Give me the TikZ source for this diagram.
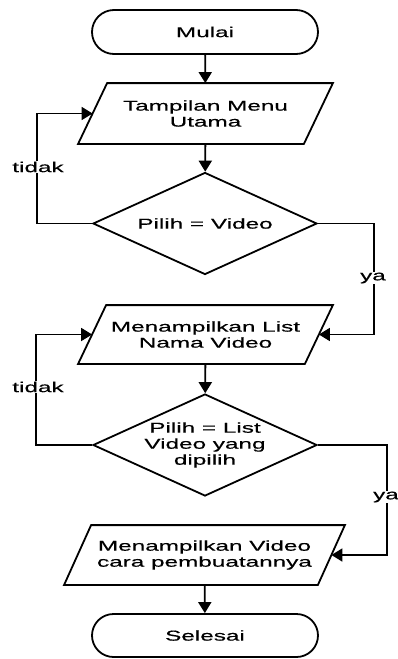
\documentclass[tikz,border=0pt]{standalone}
\usepackage{fontspec}
\setmainfont{Liberation Sans}[FakeStretch=1.7,FakeBold=0.4]
\usetikzlibrary{shapes.geometric,shapes.misc,arrows.meta}
\begin{document}
\begin{tikzpicture}[x=1pt,y=-1pt,
 every node/.style={font=\fontsize{14.3}{16}\selectfont},
 box/.style={draw, line width=1.8pt, align=center, inner sep=0pt},
 term/.style={box, rounded rectangle, minimum width=226pt, minimum height=44pt},
 io/.style={align=center, inner sep=0pt, outer sep=0.9pt, rectangle,
   append after command={
     \pgfextra{\draw[line width=1.8pt, line join=miter]
       ([xshift=#1]\tikzlastnode.north west) -- ([xshift=#1]\tikzlastnode.north east)
       -- ([xshift=-#1]\tikzlastnode.south east) -- ([xshift=-#1]\tikzlastnode.south west)
       -- cycle;}}},
 dec/.style={box, diamond, shape aspect=2.2, minimum width=224pt, minimum height=102pt},
 arr/.style={line width=1.8pt, -{Triangle[length=11pt,width=13pt]}},
 lbl/.style={fill=white, inner sep=1pt}
]
\fill[white] (0,0) rectangle (398,659);
\useasboundingbox (0,0) rectangle (398,659);

\node[term] (mulai) at (205,32) {Mulai};
\node[io=14.5pt, minimum width=224pt, minimum height=59pt] (menu) at (205.5,113.5) {Tampilan Menu\\Utama};
\node[dec] (pilih1) at (205,223.5) {Pilih = Video};
\node[io=14pt, minimum width=225pt, minimum height=57pt] (list) at (205.5,334.5) {Menampilkan List\\Nama Video};
\node[dec] (pilih2) at (205,445) {Pilih = List\\Video yang\\dipilih};
\node[io=13.5pt, minimum width=252pt, minimum height=58pt] (video) at (204.5,555) {Menampilkan Video\\cara pembuatannya};
\node[term, minimum height=43pt] (selesai) at (205,635.5) {Selesai};

\draw[arr] (mulai) -- (menu);
\draw[arr] (menu) -- (pilih1);
\draw[arr] (list) -- (pilih2);
\draw[arr] (video) -- (selesai);

\draw[arr] (pilih1.west) -- ++(-55,0) |- (menu.west);
\draw[arr] (pilih1.east) -- ++(56,0) |- (list.east);
\draw[arr] (pilih2.west) -- ++(-56,0) |- (list.west);
\draw[arr] (pilih2.east) -- ++(69,0) |- (video.east);

\node[lbl] (t1) at (38,167) {tidak};
\node[lbl] (y1) at (373,278) {ya};
\node[lbl] (t2) at (38,387) {tidak};
\node[lbl] (y2) at (386,497) {ya};
\end{tikzpicture}
\end{document}
